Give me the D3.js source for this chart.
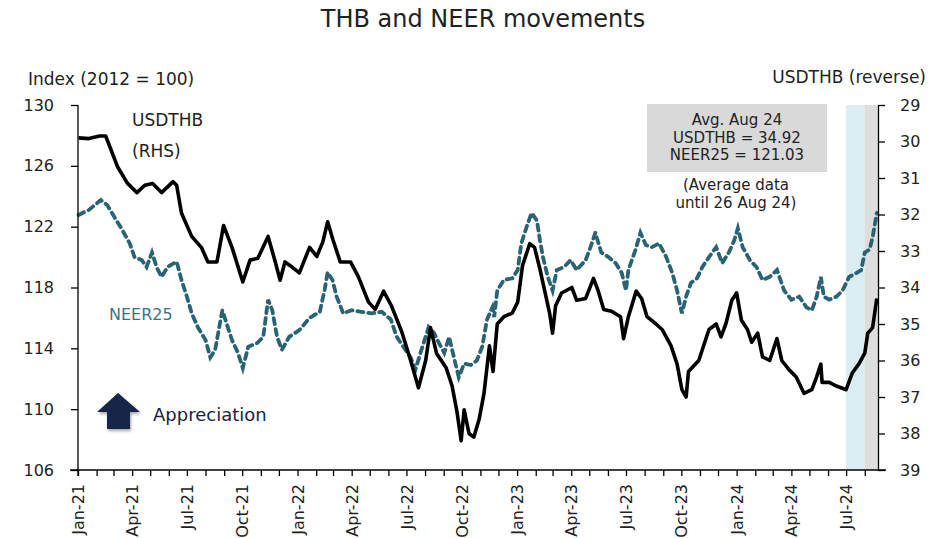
<!DOCTYPE html>
<html>
<head>
<meta charset="utf-8">
<script src="https://cdn.jsdelivr.net/npm/d3@7"></script>
<style>
  body { margin: 0; background: #fff; }
  text { font-family: "DejaVu Sans", Verdana, sans-serif; fill: #222; }
</style>
</head>
<body>
<script>
// USDTHB, baht per dollar (right axis, reversed)
var usdthb = [
  ["2021-01-02", 29.9], ["2021-01-19", 29.92], ["2021-02-06", 29.85], ["2021-02-16", 29.85],
  ["2021-03-08", 30.7], ["2021-03-24", 31.14], ["2021-04-09", 31.4], ["2021-04-22", 31.2],
  ["2021-05-05", 31.15], ["2021-05-20", 31.4], ["2021-06-08", 31.1], ["2021-06-14", 31.2],
  ["2021-06-22", 31.96], ["2021-07-09", 32.6], ["2021-07-25", 32.9], ["2021-08-05", 33.3],
  ["2021-08-20", 33.3], ["2021-08-31", 32.3], ["2021-09-14", 32.9], ["2021-10-02", 33.85],
  ["2021-10-14", 33.25], ["2021-10-27", 33.2], ["2021-11-13", 32.6], ["2021-11-25", 33.3],
  ["2021-12-03", 33.8], ["2021-12-11", 33.3], ["2021-12-23", 33.44], ["2022-01-04", 33.6],
  ["2022-01-21", 32.9], ["2022-02-02", 33.15], ["2022-02-12", 32.75], ["2022-02-20", 32.2],
  ["2022-03-01", 32.7], ["2022-03-13", 33.3], ["2022-03-30", 33.3], ["2022-04-12", 33.7],
  ["2022-04-29", 34.4], ["2022-05-10", 34.6], ["2022-05-24", 34.1], ["2022-06-06", 34.5],
  ["2022-06-23", 35.2], ["2022-07-08", 36.0], ["2022-07-21", 36.75], ["2022-08-02", 36.0],
  ["2022-08-10", 35.1], ["2022-08-20", 35.8], ["2022-09-05", 36.2], ["2022-09-15", 36.7],
  ["2022-09-23", 37.4], ["2022-09-30", 38.2], ["2022-10-05", 37.35], ["2022-10-13", 38.0],
  ["2022-10-21", 38.1], ["2022-10-30", 37.6], ["2022-11-07", 36.9], ["2022-11-16", 35.6],
  ["2022-11-22", 36.3], ["2022-11-29", 35.0], ["2022-12-10", 34.8], ["2022-12-24", 34.7],
  ["2023-01-02", 34.4], ["2023-01-10", 33.4], ["2023-01-22", 32.8], ["2023-01-30", 32.9],
  ["2023-02-08", 33.5], ["2023-02-16", 34.1], ["2023-02-24", 34.7], ["2023-03-01", 35.25],
  ["2023-03-06", 34.5], ["2023-03-16", 34.15], ["2023-04-02", 34.0], ["2023-04-10", 34.35],
  ["2023-04-25", 34.3], ["2023-05-08", 33.75], ["2023-05-16", 34.1], ["2023-05-25", 34.6],
  ["2023-06-07", 34.65], ["2023-06-22", 34.8], ["2023-06-27", 35.4], ["2023-07-05", 34.8],
  ["2023-07-18", 34.1], ["2023-07-27", 34.3], ["2023-08-05", 34.8], ["2023-08-20", 35.0],
  ["2023-08-30", 35.15], ["2023-09-14", 35.6], ["2023-09-24", 36.1], ["2023-10-02", 36.8],
  ["2023-10-09", 37.0], ["2023-10-13", 36.3], ["2023-10-30", 36.0], ["2023-11-16", 35.15],
  ["2023-11-28", 35.0], ["2023-12-06", 35.35], ["2023-12-14", 35.0], ["2023-12-24", 34.35],
  ["2024-01-01", 34.15], ["2024-01-09", 34.9], ["2024-01-19", 35.15], ["2024-01-26", 35.5],
  ["2024-02-05", 35.25], ["2024-02-13", 35.9], ["2024-02-25", 36.0], ["2024-03-08", 35.4],
  ["2024-03-16", 36.0], ["2024-03-28", 36.25], ["2024-04-09", 36.45], ["2024-04-22", 36.9],
  ["2024-05-05", 36.8], ["2024-05-13", 36.45], ["2024-05-20", 36.1], ["2024-05-22", 36.6],
  ["2024-06-03", 36.6], ["2024-06-15", 36.7], ["2024-07-01", 36.8], ["2024-07-11", 36.35],
  ["2024-07-22", 36.1], ["2024-08-01", 35.8], ["2024-08-06", 35.25], ["2024-08-14", 35.1],
  ["2024-08-21", 34.3]
];

// NEER25 index, 2012 = 100 (left axis)
var neer25 = [
  ["2021-01-02", 122.77], ["2021-01-19", 123.1], ["2021-02-08", 123.75], ["2021-02-19", 123.4],
  ["2021-03-03", 122.6], ["2021-03-14", 121.9], ["2021-03-28", 120.9], ["2021-04-05", 120.0],
  ["2021-04-17", 119.8], ["2021-04-25", 119.35], ["2021-05-04", 120.3], ["2021-05-12", 119.3],
  ["2021-05-20", 118.7], ["2021-05-30", 119.35], ["2021-06-14", 119.7], ["2021-06-22", 118.5],
  ["2021-07-01", 117.4], ["2021-07-09", 116.3], ["2021-07-19", 115.4], ["2021-08-01", 114.55],
  ["2021-08-09", 113.4], ["2021-08-17", 113.9], ["2021-08-22", 115.0], ["2021-08-29", 116.5],
  ["2021-09-07", 115.4], ["2021-09-14", 114.55], ["2021-09-24", 113.7], ["2021-10-02", 112.7],
  ["2021-10-11", 114.1], ["2021-10-26", 114.35], ["2021-11-05", 114.75], ["2021-11-13", 117.2],
  ["2021-11-20", 116.5], ["2021-11-28", 114.75], ["2021-12-06", 113.9], ["2021-12-18", 114.75],
  ["2022-01-04", 115.2], ["2022-01-21", 116.0], ["2022-02-07", 116.4], ["2022-02-15", 117.85],
  ["2022-02-20", 119.0], ["2022-02-28", 118.5], ["2022-03-07", 117.4], ["2022-03-18", 116.3],
  ["2022-04-01", 116.5], ["2022-04-17", 116.4], ["2022-05-04", 116.3], ["2022-05-21", 116.4],
  ["2022-06-05", 115.9], ["2022-06-15", 114.75], ["2022-06-26", 114.1], ["2022-07-08", 113.4],
  ["2022-07-16", 112.6], ["2022-07-26", 113.9], ["2022-08-07", 115.4], ["2022-08-16", 115.0],
  ["2022-08-24", 114.35], ["2022-09-02", 113.7], ["2022-09-10", 114.75], ["2022-09-18", 113.4],
  ["2022-09-26", 112.1], ["2022-10-05", 113.0], ["2022-10-16", 112.9], ["2022-10-26", 113.2],
  ["2022-11-04", 114.1], ["2022-11-12", 115.9], ["2022-11-21", 116.7], ["2022-11-24", 116.05],
  ["2022-11-29", 117.8], ["2022-12-10", 118.5], ["2022-12-24", 118.6], ["2023-01-02", 119.15],
  ["2023-01-08", 120.9], ["2023-01-17", 122.0], ["2023-01-25", 122.9], ["2023-02-03", 122.4],
  ["2023-02-08", 121.1], ["2023-02-13", 120.0], ["2023-02-21", 118.7], ["2023-03-01", 117.8],
  ["2023-03-08", 119.15], ["2023-03-20", 119.35], ["2023-03-31", 119.8], ["2023-04-10", 119.15],
  ["2023-04-25", 119.8], ["2023-05-03", 120.65], ["2023-05-11", 121.6], ["2023-05-21", 120.3],
  ["2023-06-02", 120.0], ["2023-06-14", 119.6], ["2023-06-24", 118.95], ["2023-07-01", 117.8],
  ["2023-07-05", 119.15], ["2023-07-17", 120.5], ["2023-07-25", 121.6], ["2023-08-03", 120.8],
  ["2023-08-13", 120.65], ["2023-08-25", 120.9], ["2023-09-06", 120.0], ["2023-09-16", 118.95],
  ["2023-09-24", 117.8], ["2023-10-02", 116.3], ["2023-10-09", 117.4], ["2023-10-17", 118.3],
  ["2023-10-27", 118.6], ["2023-11-05", 119.35], ["2023-11-16", 120.0], ["2023-11-28", 120.65],
  ["2023-12-08", 119.6], ["2023-12-19", 120.3], ["2023-12-28", 121.1], ["2024-01-03", 121.9],
  ["2024-01-11", 120.65], ["2024-01-23", 119.8], ["2024-02-03", 119.35], ["2024-02-13", 118.5],
  ["2024-02-25", 118.7], ["2024-03-08", 119.15], ["2024-03-20", 117.8], ["2024-04-01", 117.2],
  ["2024-04-14", 117.4], ["2024-04-26", 116.7], ["2024-05-05", 116.5], ["2024-05-13", 117.4],
  ["2024-05-20", 118.7], ["2024-05-25", 117.4], ["2024-06-03", 117.2], ["2024-06-15", 117.4],
  ["2024-06-25", 117.8], ["2024-07-06", 118.7], ["2024-07-18", 118.95], ["2024-07-26", 119.15],
  ["2024-08-01", 120.3], ["2024-08-09", 120.5], ["2024-08-14", 121.3], ["2024-08-21", 122.9]
];

var leftTicks = [106, 110, 114, 118, 122, 126, 130];
var rightTicks = [29, 30, 31, 32, 33, 34, 35, 36, 37, 38, 39];
var shadeBlue = ["2024-07-01", "2024-08-01"];
var shadeGray = ["2024-08-01", "2024-08-23"];
var boxLines = ["Avg. Aug 24", "USDTHB = 34.92", "NEER25 = 121.03"];
var noteLines = ["(Average data", "until 26 Aug 24)"];

function drawChart() {
  var width = 945, height = 538;
  var x0 = 78, x1 = 878, y0 = 105, y1 = 470;
  var parse = d3.timeParse("%Y-%m-%d");

  var svg = d3.select("body").append("svg")
    .attr("width", width)
    .attr("height", height);

  var x = d3.scaleTime()
    .domain([parse("2021-01-01"), parse("2024-08-23")])
    .range([x0, x1]);
  var yL = d3.scaleLinear().domain([106, 130]).range([y1, y0]);
  var yR = d3.scaleLinear().domain([29, 39]).range([y0, y1]);

  // shaded months
  svg.append("rect")
    .attr("x", x(parse(shadeBlue[0])))
    .attr("y", y0)
    .attr("width", x(parse(shadeBlue[1])) - x(parse(shadeBlue[0])))
    .attr("height", y1 - y0)
    .attr("fill", "#daedf3");
  svg.append("rect")
    .attr("x", x(parse(shadeGray[0])))
    .attr("y", y0)
    .attr("width", x(parse(shadeGray[1])) - x(parse(shadeGray[0])))
    .attr("height", y1 - y0)
    .attr("fill", "#dedede");

  // lines
  var neerLine = d3.line()
    .x(function (d) { return x(parse(d[0])); })
    .y(function (d) { return yL(d[1]); });
  var usdLine = d3.line()
    .x(function (d) { return x(parse(d[0])); })
    .y(function (d) { return yR(d[1]); });

  svg.append("path")
    .datum(neer25)
    .attr("d", neerLine)
    .attr("fill", "none")
    .attr("stroke", "#2a6373")
    .attr("stroke-width", 3.8)
    .attr("stroke-dasharray", "6,5")
    .attr("stroke-linecap", "round");

  svg.append("path")
    .datum(usdthb)
    .attr("d", usdLine)
    .attr("fill", "none")
    .attr("stroke", "#000")
    .attr("stroke-width", 3.6)
    .attr("stroke-linejoin", "round");

  // axes
  var gx = svg.append("g")
    .attr("transform", "translate(0," + y1 + ")")
    .call(d3.axisBottom(x)
      .ticks(d3.timeMonth.every(1))
      .tickSize(6)
      .tickSizeOuter(0)
      .tickFormat(function (d) {
        return d.getMonth() % 3 === 0 ? d3.timeFormat("%b-%y")(d) : "";
      }));
  gx.select(".domain").attr("d", "M70,0H886");
  gx.selectAll("text")
    .attr("transform", "rotate(-90)")
    .attr("text-anchor", "end")
    .attr("x", -14)
    .attr("y", 0)
    .attr("dy", "0.35em")
    .style("font-size", "16px");

  var gl = svg.append("g")
    .attr("transform", "translate(" + x0 + ",0)")
    .call(d3.axisLeft(yL).tickValues(leftTicks).tickSize(7).tickPadding(17).tickSizeOuter(0));
  gl.select(".domain").attr("d", "M0," + y0 + "V" + (y1 + 6));
  gl.selectAll("text").style("font-size", "16px");

  var gr = svg.append("g")
    .attr("transform", "translate(" + x1 + ",0)")
    .call(d3.axisRight(yR).tickValues(rightTicks).tickSize(7).tickPadding(15).tickSizeOuter(0));
  gr.selectAll("text").style("font-size", "16px");

  svg.selectAll(".domain, .tick line").attr("stroke", "#000").attr("stroke-width", 1.3);

  // titles
  svg.append("text")
    .attr("x", 483).attr("y", 27)
    .attr("text-anchor", "middle")
    .style("font-size", "24px")
    .text("THB and NEER movements");
  svg.append("text")
    .attr("x", 28).attr("y", 85)
    .style("font-size", "17px")
    .text("Index (2012 = 100)");
  svg.append("text")
    .attr("x", 926).attr("y", 83)
    .attr("text-anchor", "end")
    .style("font-size", "17px")
    .text("USDTHB (reverse)");

  // series labels
  svg.append("text").attr("x", 132).attr("y", 126)
    .style("font-size", "17px").text("USDTHB");
  svg.append("text").attr("x", 132).attr("y", 157)
    .style("font-size", "17px").text("(RHS)");
  svg.append("text").attr("x", 109).attr("y", 320)
    .style("font-size", "16px").style("fill", "#3a7487").text("NEER25");

  // annotation box
  svg.append("rect")
    .attr("x", 647).attr("y", 104)
    .attr("width", 180).attr("height", 68)
    .attr("fill", "#d9d9d9");
  svg.selectAll(".boxline")
    .data(boxLines)
    .enter().append("text")
    .attr("class", "boxline")
    .attr("x", 737)
    .attr("y", function (d, i) { return 125 + i * 17.5; })
    .attr("text-anchor", "middle")
    .style("font-size", "15px")
    .text(function (d) { return d; });
  svg.selectAll(".noteline")
    .data(noteLines)
    .enter().append("text")
    .attr("class", "noteline")
    .attr("x", 736)
    .attr("y", function (d, i) { return 190 + i * 17.5; })
    .attr("text-anchor", "middle")
    .style("font-size", "15px")
    .text(function (d) { return d; });

  // appreciation arrow
  var defs = svg.append("defs");
  var f = defs.append("filter").attr("id", "shadow")
    .attr("x", "-30%").attr("y", "-30%").attr("width", "160%").attr("height", "160%");
  f.append("feDropShadow").attr("dx", 1).attr("dy", 2).attr("stdDeviation", 1.5)
    .attr("flood-color", "#000").attr("flood-opacity", 0.35);
  svg.append("path")
    .attr("d", "M118,393 L140,412 L130,412 L130,429 L107,429 L107,412 L97,412 Z")
    .attr("fill", "#14284a")
    .attr("filter", "url(#shadow)");
  svg.append("text").attr("x", 153).attr("y", 421)
    .style("font-size", "18px").style("fill", "#1b2240").text("Appreciation");
}

drawChart();
</script>
</body>
</html>
